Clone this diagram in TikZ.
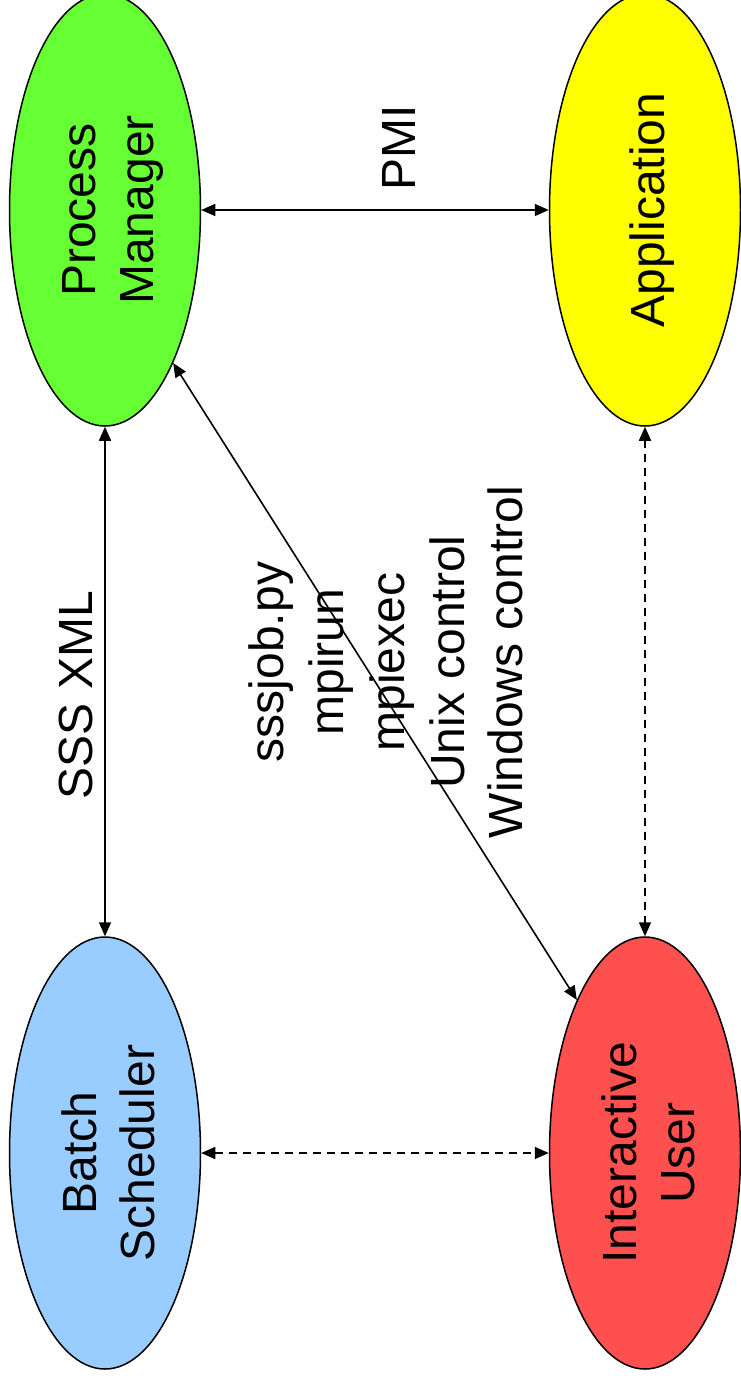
\documentclass[tikz,border=0pt]{standalone}
\usepackage{fontspec}
\setmainfont{Liberation Sans}
\usetikzlibrary{shapes.geometric,arrows.meta}
\definecolor{pmgreen}{HTML}{66FF33}
\definecolor{appyellow}{HTML}{FFFF00}
\definecolor{batchblue}{HTML}{99CCFF}
\definecolor{userred}{HTML}{FF5050}
% uniform line box so every text line is centred like a slide text frame
\newcommand\linestrut{\vrule height 49.5pt depth 8pt width 0pt}
\begin{document}
\begin{tikzpicture}[x=1pt,y=-1pt,
  every node/.style={font=\fontsize{48}{57.7}\selectfont},
  actor/.style={ellipse, draw=black, line width=1.5pt, rotate=90,
    minimum width=432pt, minimum height=191pt, inner sep=0pt, align=center},
  tag/.style={rotate=90, inner sep=0pt, align=center},
  tip/.tip={Triangle[length=14pt,width=12pt]},
  link/.style={line width=1.6pt, tip-tip},
  loose/.style={line width=1.6pt, tip-tip, dash pattern=on 8pt off 6pt}]
\useasboundingbox (0,0) rectangle (741,1382);

% the four parties
\node[actor, fill=pmgreen]    (pm)    at (105,210)  {\linestrut Process\\\linestrut Manager};
\node[actor, fill=appyellow]  (app)   at (645,210)  {\linestrut Application};
\node[actor, fill=batchblue]  (batch) at (105,1153) {\linestrut Batch\\\linestrut Scheduler};
\node[actor, fill=userred]    (user)  at (645,1153) {\linestrut Interactive\\\linestrut User};

% interfaces between them
\draw[link]  (pm) -- (app);
\draw[link]  (pm) -- (batch);
\draw[loose] (batch) -- (user);
\draw[loose] (app) -- (user);
\draw[link]  (pm.204) -- (user.24);

% interface names
\node[tag] (pmi) at (395,148) {\linestrut PMI};
\node[tag] (sss) at (72,695)  {\linestrut SSS XML};
\node[tag] (cmds) at (382,662) {\linestrut sssjob.py\\\linestrut mpirun\\\linestrut mpiexec\\\linestrut Unix control\\\linestrut Windows control};
\end{tikzpicture}
\end{document}
